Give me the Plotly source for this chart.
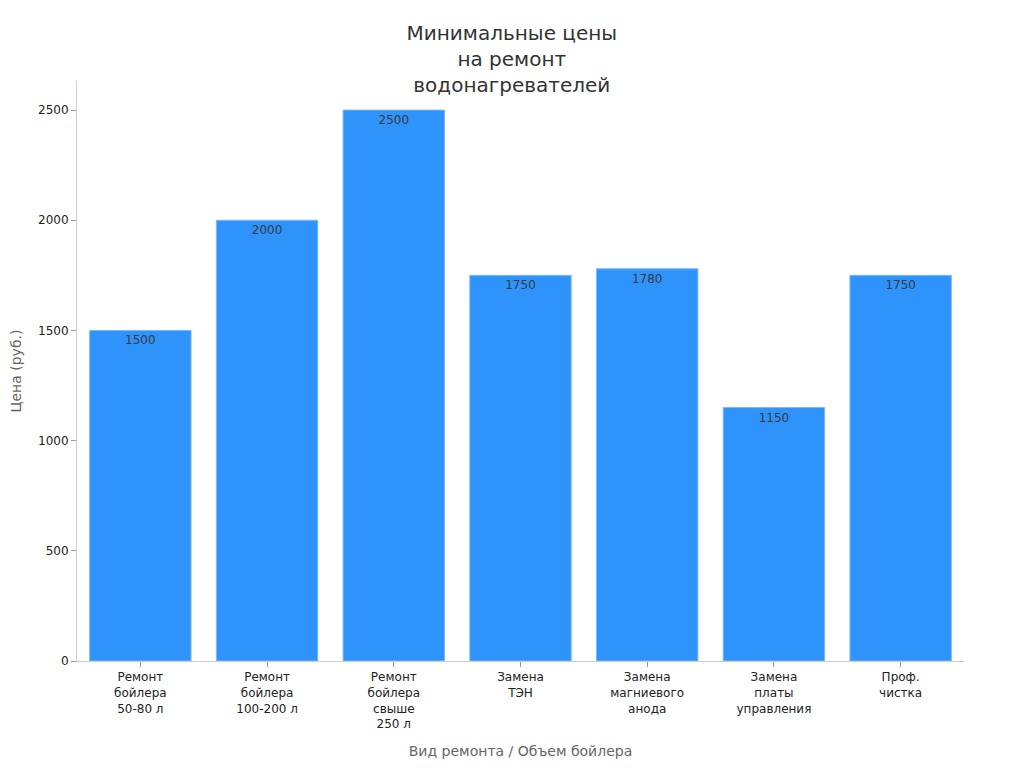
import plotly.graph_objects as go

categories = [
    "Ремонт<br>бойлера<br>50-80 л",
    "Ремонт<br>бойлера<br>100-200 л",
    "Ремонт<br>бойлера<br>свыше<br>250 л",
    "Замена<br>ТЭН",
    "Замена<br>магниевого<br>анода",
    "Замена<br>платы<br>управления",
    "Проф.<br>чистка",
]
prices = [1500, 2000, 2500, 1750, 1780, 1150, 1750]

fig = go.Figure(go.Bar(
    x=categories,
    y=prices,
    text=prices,
    textposition="inside",
    insidetextanchor="end",
    textfont=dict(color="#3a3a3a", size=12),
    marker=dict(color="#2E93FA", line=dict(color="#7ab8f5", width=1)),
))

fig.update_layout(
    width=1024, height=768,
    font=dict(family="DejaVu Sans", color="#222222", size=12),
    plot_bgcolor="white", paper_bgcolor="white",
    title=dict(text="Минимальные цены<br>на ремонт<br>водонагревателей",
               x=0.492, xanchor="center", y=0.958, yanchor="top",
               font=dict(size=20, color="#333333")),
    margin=dict(l=69, r=68, t=73, b=115),
    bargap=0.2,
    showlegend=False,
)
fig.update_xaxes(
    title=dict(text="Вид ремонта / Объем бойлера", font=dict(color="#666666", size=14)),
    showline=True, linecolor="#cccccc", ticks="outside", tickcolor="#999999", ticklen=5,
    tickangle=0, automargin=False,
)
fig.update_yaxes(
    title=dict(text="Цена (руб.)", font=dict(color="#666666", size=14), standoff=20),
    range=[0, 2632], showgrid=False, zeroline=False,
    showline=True, linecolor="#cccccc", ticks="outside", tickcolor="#999999", ticklen=5,
    tickvals=[0, 500, 1000, 1500, 2000, 2500], automargin=False,
)

fig.write_html("out.html")
